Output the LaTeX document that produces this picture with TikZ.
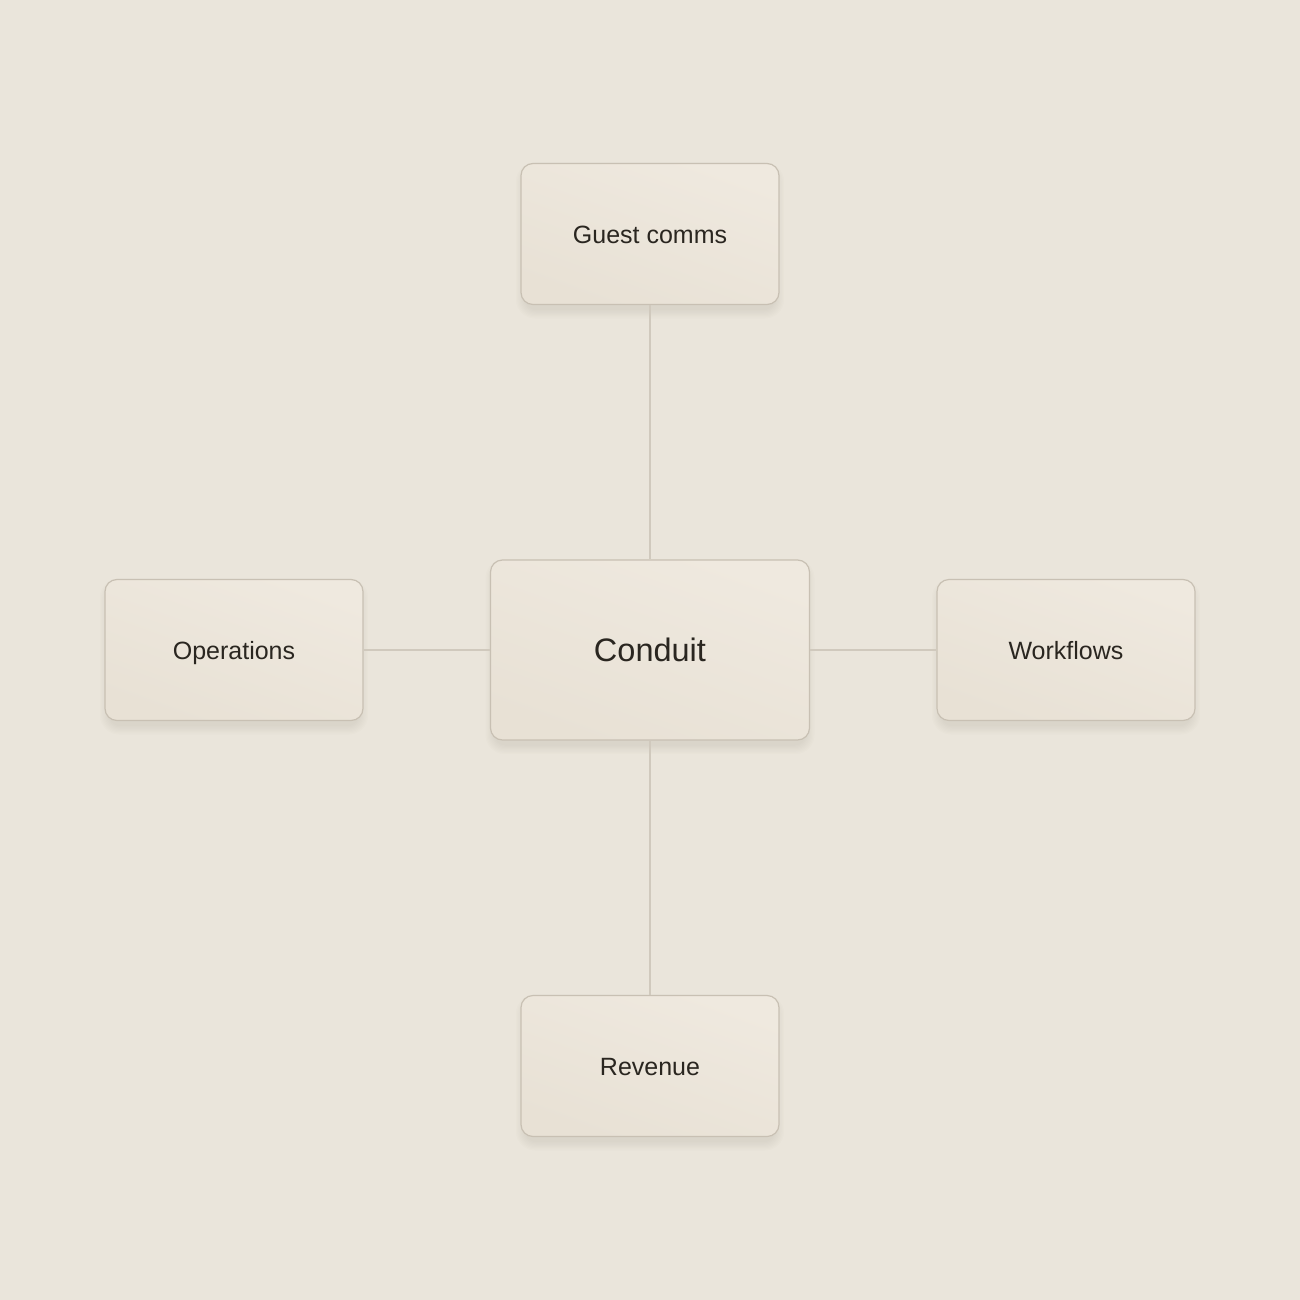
\documentclass[tikz,border=0pt]{standalone}
\usepackage{fontspec}
\setmainfont{Liberation Sans}
\usetikzlibrary{backgrounds,calc}
\definecolor{bg}{HTML}{EAE5DB}
\definecolor{boxtop}{HTML}{EFE9DF}
\definecolor{boxbot}{HTML}{E8E1D5}
\definecolor{boxline}{HTML}{C8C0B3}
\definecolor{wire}{HTML}{D0C9BD}
\definecolor{ink}{HTML}{2A2620}
\definecolor{shade}{HTML}{5A4A30}
\begin{document}
\begin{tikzpicture}[x=1pt,y=-1pt,
  card/.style={draw=boxline, line width=1.2pt, rounded corners=12pt,
    shading=axis, top color=boxtop, bottom color=boxbot, shading angle=-20,
    text=ink, font=\fontsize{25}{30}\selectfont, text height=18pt, text depth=0pt},
  hubcard/.style={card, font=\fontsize{32.5}{38}\selectfont, text height=23.3pt},
  wirestyle/.style={draw=wire, line width=1.5pt},
  softshadow/.style={fill=shade, opacity=0.01}]
\useasboundingbox (0,0) rectangle (1300,1300);
\node[hubcard, minimum width=319pt, minimum height=180pt] (hub) at (650,650) {Conduit};
\node[card, minimum width=258pt, minimum height=141pt] (top) at (650,234) {Guest comms};
\node[card, minimum width=258pt, minimum height=141pt] (left) at (234,650) {Operations};
\node[card, minimum width=258pt, minimum height=141pt] (right) at (1066,650) {Workflows};
\node[card, minimum width=258pt, minimum height=141pt] (bottom) at (650,1066) {Revenue};
\draw[wirestyle] (top.south) -- (hub.north);
\draw[wirestyle] (hub.south) -- (bottom.north);
\draw[wirestyle] (left.east) -- (hub.west);
\draw[wirestyle] (hub.east) -- (right.west);
\begin{scope}[on background layer]
  \fill[bg] (0,0) rectangle (1300,1300);
  \foreach \n in {hub,top,left,right,bottom}{
    \foreach \k in {0,...,7}{
      \fill[softshadow, rounded corners={12pt+\k pt}]
        ($(\n.north west)+(4-\k*1.2, 8-\k*1.2)$) rectangle ($(\n.south east)+(-4+\k*1.2, 5+\k*1.2)$);
    }
  }
\end{scope}
\end{tikzpicture}
\end{document}
